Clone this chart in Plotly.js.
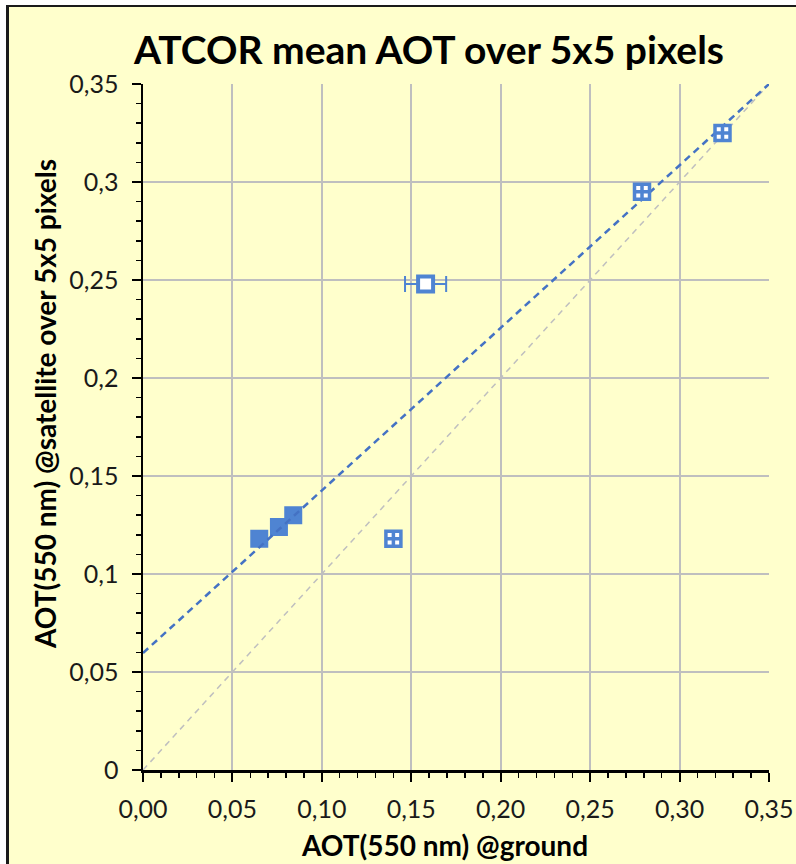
<!DOCTYPE html>
<html>
<head>
<meta charset="utf-8">
<script src="https://cdn.plot.ly/plotly-3.0.1.min.js"></script>
<style>
  html, body { margin: 0; padding: 0; background: #ffffff; }
  #wrap { position: relative; width: 796px; height: 864px; overflow: hidden; }
  #chart { position: absolute; left: 0; top: 0; width: 796px; height: 864px; }
  .cover { position: absolute; background: #ffffff; pointer-events: none; }
  .frame { position: absolute; background: #1a1a1a; pointer-events: none; }
</style>
</head>
<body>
<div id="wrap">
  <div id="chart"></div>
  <div class="cover" style="left:0;top:0;width:6px;height:864px;"></div>
  <div class="cover" style="left:0;top:0;width:796px;height:5px;"></div>
  <div class="frame" style="left:6px;top:5px;width:3px;height:859px;"></div>
  <div class="frame" style="left:6px;top:5px;width:790px;height:2px;"></div>
</div>
<script>
// ground AOT (x) and satellite AOT (y), grouped by marker style
const filledX  = [0.065, 0.076, 0.084];
const filledY  = [0.118, 0.124, 0.130];
const patternX = [0.140, 0.279, 0.324];
const patternY = [0.118, 0.295, 0.325];
const openX    = [0.158];
const openY    = [0.248];
const openXErr = [0.0115];
// linear trend line end points and 1:1 reference line
const trendX   = [0.00, 0.35];
const trendY   = [0.0597, 0.35];
const oneToOne = [0.00, 0.35];

const titleText = 'ATCOR mean AOT over 5x5 pixels';
const xTitle = 'AOT(550 nm) @ground';
const yTitle = 'AOT(550 nm) @satellite over 5x5 pixels';

const blue = '#4F84D2';
const lineBlue = '#4472C4';
const grid = '#BFBFBF';
const bg = '#FFFFCC';
const fontFam = 'Lato, "Open Sans", sans-serif';

const traces = [
  { x: oneToOne, y: oneToOne, mode: 'lines', type: 'scatter',
    line: { color: grid, width: 1.5, dash: '6px,5px' }, hoverinfo: 'skip' },
  { x: filledX, y: filledY, mode: 'markers', type: 'scatter',
    marker: { symbol: 'square', size: 16, color: blue, line: { color: blue, width: 2 } } },
  { x: trendX, y: trendY, mode: 'lines', type: 'scatter',
    line: { color: lineBlue, width: 2.5, dash: '7px,5px' }, hoverinfo: 'skip' },
  { x: patternX, y: patternY, mode: 'markers', type: 'scatter',
    marker: { symbol: 'square-cross', size: 15, color: '#ffffff', line: { color: blue, width: 3.5 } } },
  { x: openX, y: openY, mode: 'markers', type: 'scatter',
    error_x: { type: 'data', array: openXErr, visible: true, color: blue, thickness: 2, width: 8 },
    marker: { symbol: 'square', size: 15, color: '#ffffff', line: { color: blue, width: 4 } } }
];

const axisCommon = {
  range: [0, 0.35], dtick: 0.05, tick0: 0,
  showgrid: true, gridcolor: grid, gridwidth: 2,
  zeroline: false,
  showline: true, linecolor: '#000000', linewidth: 2.5, mirror: false,
  ticks: 'outside', ticklen: 9, tickwidth: 2, tickcolor: '#000000',
  minor: { dtick: 0.01, ticks: 'outside', ticklen: 5, tickwidth: 1.5, tickcolor: '#000000', showgrid: false },
  tickfont: { family: fontFam, size: 25, color: '#1a1a1a' },
  automargin: false, fixedrange: true
};

const layout = {
  width: 796, height: 864,
  margin: { l: 143, r: 27, t: 84, b: 94, pad: 0 },
  paper_bgcolor: bg, plot_bgcolor: bg,
  separators: ', ',
  showlegend: false,
  title: { text: '<b>' + titleText + '</b>', font: { family: fontFam, size: 39, color: '#000000' },
           xref: 'container', x: 429 / 796, xanchor: 'center',
           yref: 'container', y: 1 - 50 / 864, yanchor: 'middle' },
  xaxis: Object.assign({}, axisCommon, { tickformat: '.2f', ticklabelstandoff: 6 }),
  yaxis: Object.assign({}, axisCommon, { ticklabelstandoff: 8 }),
  annotations: [
    { text: '<b>' + xTitle + '</b>', showarrow: false,
      xref: 'paper', x: (444 - 143) / 626, xanchor: 'center',
      yref: 'paper', y: -(845 - 770) / 686, yanchor: 'middle',
      font: { family: fontFam, size: 28, color: '#000000' } },
    { text: '<b>' + yTitle + '</b>', showarrow: false, textangle: -90,
      xref: 'paper', x: -(143 - 45) / 626, xanchor: 'center',
      yref: 'paper', y: (770 - 404) / 686, yanchor: 'middle',
      font: { family: fontFam, size: 28, color: '#000000' } }
  ]
};

Plotly.newPlot('chart', traces, layout, { staticPlot: true, displayModeBar: false });
</script>
</body>
</html>
